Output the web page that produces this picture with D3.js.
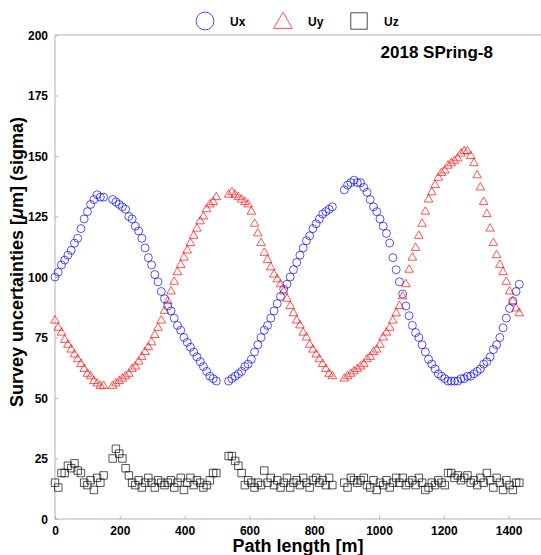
<!DOCTYPE html>
<html>
<head>
<meta charset="utf-8">
<script src="https://cdn.jsdelivr.net/npm/d3@7/dist/d3.min.js"></script>
<style>
  body { margin: 0; background: #fff; }
  text { font-family: "Liberation Sans", Arial, sans-serif; }
</style>
</head>
<body>
<div id="chart"></div>
<script>
// path length [m] of each survey point (four straight sections with gaps)
var pathLength = [
  0, 10, 20, 30, 40, 50, 60, 70, 80, 90, 100, 110, 120, 130, 140, 150,
  178, 188, 198, 208, 218, 228, 238, 248, 258, 268, 278, 288, 298, 308, 318, 328, 338,
  348, 358, 368, 378, 388, 398, 408, 418, 428, 438, 448, 458, 468, 478, 488, 498,
  536, 546, 556, 566, 576, 586, 596, 606, 616, 626, 636, 646, 656, 666, 676, 686, 696,
  706, 716, 726, 736, 746, 756, 766, 776, 786, 796, 806, 816, 826, 836, 846, 856,
  893, 903, 913, 923, 933, 943, 953, 963, 973, 983, 993, 1003, 1013, 1023, 1033, 1043,
  1053, 1063, 1073, 1083, 1093, 1103, 1113, 1123, 1133, 1143, 1153, 1163, 1173, 1183,
  1193, 1203, 1213, 1223, 1233, 1243, 1253, 1263, 1273, 1283, 1293, 1303, 1313, 1323,
  1333, 1343, 1353, 1363, 1373, 1383, 1393, 1403, 1413, 1423, 1433
];
var ux = [
  100, 102, 105, 107, 109, 111, 114, 116, 120, 124, 127, 130, 132, 134, 133, 133,
  132, 131, 130, 129, 128, 125, 124, 121, 119, 116, 112, 108, 105, 101, 98, 94, 91,
  88, 86, 83, 80, 78, 75, 73, 71, 69, 67, 65, 63, 61, 59, 58, 57,
  57, 58, 59, 60, 61, 63, 64, 66, 69, 72, 75, 78, 80, 83, 86, 89, 92,
  95, 97, 100, 103, 106, 109, 112, 115, 117, 120, 122, 124, 126, 127, 128, 129,
  136, 138, 139, 140, 139, 139, 137, 135, 132, 129, 127, 124, 121, 118, 114, 108,
  103, 98, 93, 88, 84, 80, 77, 75, 72, 69, 66, 64, 62, 60,
  59, 58, 57, 57, 57, 57, 58, 58, 59, 59, 60, 61, 62, 64,
  65, 67, 70, 72, 75, 79, 83, 87, 90, 94, 97
];
var uy = [
  82, 79, 77, 74, 72, 70, 68, 66, 64, 62, 60, 59, 57, 56, 55, 55,
  55, 56, 57, 58, 59, 60, 62, 63, 65, 67, 69, 71, 73, 76, 79, 82, 86,
  90, 94, 98, 102, 105, 108, 111, 114, 117, 120, 123, 125, 128, 130, 131, 133,
  134, 135, 134, 133, 132, 131, 130, 127, 122, 118, 114, 110, 107, 104, 101, 99, 97,
  94, 91, 88, 85, 82, 80, 77, 75, 72, 70, 68, 66, 64, 62, 60, 59,
  58, 59, 60, 61, 62, 63, 64, 66, 67, 69, 70, 72, 75, 77, 79, 82,
  85, 88, 92, 97, 103, 108, 112, 117, 122, 127, 132, 135, 138, 141,
  143, 144, 146, 147, 148, 149, 151, 152, 152, 150, 147, 142, 137, 131,
  126, 120, 114, 109, 105, 102, 98, 94, 90, 87, 85
];
var uz = [
  15, 13, 19, 19, 22, 21, 23, 20, 19, 15, 14, 16, 12, 17, 15, 18,
  25, 29, 27, 25, 21, 18, 15, 14, 16, 13, 15, 17, 15, 13, 16, 15, 14,
  15, 16, 13, 15, 17, 12, 15, 17, 14, 16, 15, 13, 14, 16, 19, 19,
  26, 26, 24, 22, 19, 14, 16, 15, 13, 15, 14, 20, 15, 17, 14, 16, 13,
  15, 17, 13, 15, 16, 14, 17, 15, 13, 16, 17, 15, 16, 14, 17, 14,
  15, 13, 17, 16, 15, 16, 17, 14, 13, 16, 12, 15, 14, 16, 13, 15,
  17, 15, 17, 14, 15, 16, 14, 17, 15, 12, 13, 15, 14, 16,
  15, 14, 19, 19, 17, 18, 16, 17, 18, 15, 16, 14, 17, 15,
  19, 16, 13, 17, 15, 12, 16, 14, 12, 15, 15
];
var yTicks = [0, 25, 50, 75, 100, 125, 150, 175, 200];
var xTicks = [0, 200, 400, 600, 800, 1000, 1200, 1400];
var seriesNames = ["Ux", "Uy", "Uz"];

var W = 541, H = 555;
var x = d3.scaleLinear().domain([0, 1500]).range([55, 541]);
var y = d3.scaleLinear().domain([0, 200]).range([519, 35]);

var svg = d3.select("#chart").append("svg")
    .attr("width", W)
    .attr("height", H);

// frame: left, bottom and top lines
svg.append("line").attr("x1", x(0)).attr("x2", x(0)).attr("y1", y(200)).attr("y2", y(0))
    .attr("stroke", "#b4b4b4");
svg.append("line").attr("x1", x(0)).attr("x2", W).attr("y1", y(0)).attr("y2", y(0))
    .attr("stroke", "#b4b4b4");
svg.append("line").attr("x1", x(0)).attr("x2", W).attr("y1", y(200)).attr("y2", y(200))
    .attr("stroke", "#b4b4b4");

// y axis
var yAxis = svg.append("g")
    .attr("transform", "translate(" + x(0) + ",0)")
    .call(d3.axisLeft(y).tickValues(yTicks).tickSizeInner(-3).tickSizeOuter(0).tickPadding(7));
// x axis
var xAxis = svg.append("g")
    .attr("transform", "translate(0," + y(0) + ")")
    .call(d3.axisBottom(x).tickValues(xTicks).tickFormat(d3.format("d"))
      .tickSizeInner(-3).tickSizeOuter(0).tickPadding(7));
[xAxis, yAxis].forEach(function(a) {
  a.select(".domain").remove();
  a.selectAll("line").attr("stroke", "#b4b4b4");
  a.selectAll("text")
    .style("font-size", "12px")
    .style("font-weight", "bold")
    .attr("fill", "#000");
});
yAxis.selectAll("text").attr("dy", "0.36em");

// axis titles
svg.append("text")
    .attr("x", 298)
    .attr("y", 552)
    .attr("text-anchor", "middle")
    .style("font-size", "18px")
    .style("font-weight", "bold")
    .text("Path length [m]");
var yt = svg.append("text")
    .attr("transform", "translate(23,262) rotate(-90)")
    .attr("text-anchor", "middle")
    .style("font-size", "18px")
    .style("font-weight", "bold");
yt.append("tspan").text("Survey uncertainties [");
yt.append("tspan").style("font-style", "italic").text("\u03bc");
yt.append("tspan").text("m] (sigma)");

// annotation
svg.append("text")
    .attr("x", 493)
    .attr("y", 58)
    .attr("text-anchor", "end")
    .style("font-size", "17px")
    .style("font-weight", "bold")
    .text("2018 SPring-8");

var circle = d3.symbol().type(d3.symbolCircle).size(50);
var tri = d3.symbol().type(d3.symbolTriangle).size(32);
var square = d3.symbol().type(d3.symbolSquare).size(56);

function drawSeries(values, sym, color) {
  svg.append("g").selectAll("path")
    .data(values)
    .enter().append("path")
    .attr("d", sym)
    .attr("transform", function(d, i) {
      return "translate(" + x(pathLength[i]) + "," + y(d) + ")";
    })
    .attr("fill", "none")
    .attr("stroke", color)
    .attr("stroke-width", 0.9)
    .attr("stroke-opacity", 0.75);
}
drawSeries(ux, circle, "#0000ff");
drawSeries(uy, tri, "#ff0000");
drawSeries(uz, square, "#000000");

// legend
var legendX = [205, 283, 359];
var legendSym = [
  d3.symbol().type(d3.symbolCircle).size(250),
  d3.symbol().type(d3.symbolTriangle).size(150),
  d3.symbol().type(d3.symbolSquare).size(270)
];
var legendColor = ["#0000ff", "#ff0000", "#000000"];
var legend = svg.append("g");
seriesNames.forEach(function(name, i) {
  legend.append("path")
    .attr("d", legendSym[i])
    .attr("transform", "translate(" + legendX[i] + "," + (i == 1 ? 23 : 21) + ")")
    .attr("fill", "none")
    .attr("stroke", legendColor[i])
    .attr("stroke-opacity", 0.7);
  legend.append("text")
    .attr("x", legendX[i] + 25)
    .attr("y", 26)
    .style("font-size", "12px")
    .style("font-weight", "bold")
    .text(name);
});
</script>
</body>
</html>
